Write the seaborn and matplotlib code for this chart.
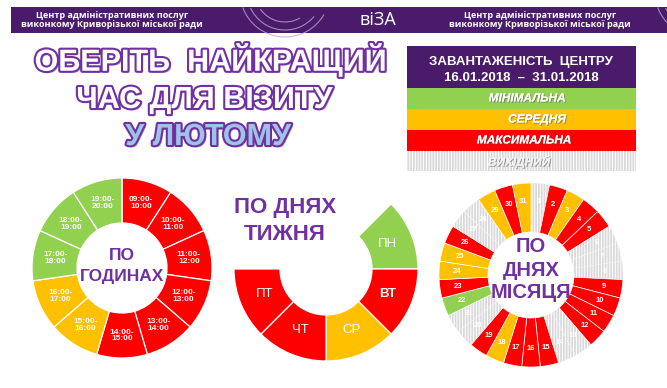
import numpy as np
import matplotlib
matplotlib.use('Agg')
import matplotlib.pyplot as plt
import matplotlib.patheffects as pe
from matplotlib.patches import Rectangle, Arc
import seaborn as sns

sns.set_theme(style='white')
plt.rcParams['font.family'] = ['Liberation Sans', 'DejaVu Sans']
plt.rcParams['hatch.linewidth'] = 0.7

# ---------------- data ----------------
load_colors = {'min': '#92d050', 'mid': '#ffc000', 'max': '#ff0000', 'off': '#d9d9d9'}
legend_names = ['МІНІМАЛЬНА', 'СЕРЕДНЯ', 'МАКСИМАЛЬНА', 'ВИХІДНИЙ']
legend_keys = ['min', 'mid', 'max', 'off']

hour_labels = ['09:00-\n10:00', '10:00-\n11:00', '11:00-\n12:00', '12:00-\n13:00',
               '13:00-\n14:00', '14:00-\n15:00', '15:00-\n16:00', '16:00-\n17:00',
               '17:00-\n18:00', '18:00-\n19:00', '19:00-\n20:00']
hour_load = ['max', 'max', 'max', 'max', 'max', 'max', 'mid', 'mid', 'min', 'min', 'min']
hour_share = [1, 1, 1, 1, 1, 1, 1, 1, 1, 1, 1]

week_labels = ['ПН', 'ВТ', 'СР', 'ЧТ', 'ПТ']
week_load = ['min', 'max', 'mid', 'max', 'max']
week_share = [1, 1, 1, 1, 1]
week_blank = 3

day_labels = ['1', '2', '3', '4', '5', '6', '7', '8', '9', '10', '11', '12', '13', '14', '15',
              '16', '17', '18', '19', '20', '21', '22', '23', '24', '25', '26', '27', '28',
              '29', '30', '31']
day_load = ['off', 'max', 'mid', 'max', 'max', 'off', 'off', 'off', 'max', 'max', 'max', 'max',
            'off', 'off', 'max', 'max', 'max', 'mid', 'max', 'off', 'off', 'min', 'max', 'mid',
            'mid', 'max', 'off', 'off', 'mid', 'max', 'mid']
day_share = [1] * 31

# ---------------- figure ----------------
W, H = 667, 388
fig = plt.figure(figsize=(W / 100, H / 100), dpi=100)
fig.patch.set_facecolor('white')
ax = fig.add_axes([0, 0, 1, 1])


def Y(y):
    return H - y


PURPLE = '#4a1a6b'
TXT = '#7030a0'
HATCH = '||||||'

# header band
ax.add_patch(Rectangle((11, Y(33)), W - 11, 26, facecolor=PURPLE, edgecolor='none', zorder=1))
for cx in (112, 540):
    ax.text(cx, Y(15), 'Центр адміністративних послуг', color='white', fontsize=6.5,
            fontweight='bold', family=['Open Sans', 'DejaVu Sans'], ha='center', va='center', zorder=3)
    ax.text(cx, Y(24.5), 'виконкому Криворізької міської ради', color='white', fontsize=6.5,
            fontweight='bold', family=['Open Sans', 'DejaVu Sans'], ha='center', va='center', zorder=3)
ax.text(378, Y(20), 'віЗА', color='white', fontsize=13, family=['Open Sans', 'DejaVu Sans'],
        ha='center', va='center', zorder=3)
for x0 in (285, 700):
    for rr, a1, a2 in ((45, 200, 330), (38, 205, 320), (30, 215, 300)):
        ax.add_patch(Arc((x0, Y(-8)), 2 * rr, 2 * rr, theta1=a1, theta2=a2,
                         color='#b9a6d3', lw=0.8, alpha=0.8, zorder=2))

# title
title_fx = [pe.withSimplePatchShadow(offset=(1.5, -1.5), shadow_rgbFace='#8c7aa8', alpha=0.6),
            pe.Stroke(linewidth=3.0, foreground=TXT), pe.Normal()]
ax.text(210, Y(60), 'ОБЕРІТЬ  НАЙКРАЩИЙ', fontsize=22, fontweight='bold', color='white',
        ha='center', va='center', path_effects=title_fx, zorder=4)
ax.text(204, Y(100), 'ЧАС ДЛЯ ВІЗИТУ', fontsize=22, fontweight='bold', color='white',
        ha='center', va='center', path_effects=title_fx, zorder=4)
ax.text(208, Y(137), 'У ЛЮТОМУ', fontsize=22, fontweight='bold', color='#9dc3e6',
        ha='center', va='center', path_effects=title_fx, zorder=4)

# legend box
LX0, LX1 = 407, 636
ax.add_patch(Rectangle((LX0, Y(88)), LX1 - LX0, 42, facecolor=PURPLE, edgecolor='none', zorder=1))
ax.text(521, Y(62), 'ЗАВАНТАЖЕНІСТЬ  ЦЕНТРУ', color='white', fontsize=9.5, fontweight='bold',
        ha='center', va='center', zorder=3)
ax.text(521, Y(78), '16.01.2018  –  31.01.2018', color='white', fontsize=9.5, fontweight='bold',
        ha='center', va='center', zorder=3)
rows = [(88, 109), (109, 130), (130, 151), (151, 171)]
label_x = [527, 537, 524, 519]
shadow_fx = [pe.withSimplePatchShadow(offset=(0.8, -0.8), shadow_rgbFace='#555555', alpha=0.5),
             pe.Normal()]
for (ya, yb), key, name, lx in zip(rows, legend_keys, legend_names, label_x):
    r = Rectangle((LX0, Y(yb)), LX1 - LX0, yb - ya, facecolor=load_colors[key],
                  edgecolor='white' if key == 'off' else 'none', lw=0,
                  hatch=HATCH if key == 'off' else None, zorder=1)
    ax.add_patch(r)
    ax.text(lx, Y((ya + yb) / 2), name, color='#f2f2f2' if key == 'off' else 'white',
            fontsize=8.5, fontweight='bold', style='italic', ha='center', va='center',
            path_effects=shadow_fx, zorder=3)


def ring(values, keys, cx, cy, R, r, start, blank=None, lw=0.9):
    vals = list(values) + ([blank] if blank else [])
    cols = [load_colors[k] for k in keys] + (['none'] if blank else [])
    wedges, _ = ax.pie(vals, colors=cols, startangle=start, counterclock=False, radius=R,
                       center=(cx, Y(cy)), frame=True,
                       wedgeprops=dict(width=R - r, edgecolor='white', linewidth=lw))
    if blank:
        wedges[-1].set_edgecolor('none')
        wedges = wedges[:-1]
    for w, k in zip(wedges, keys):
        if k == 'off':
            w.set_hatch(HATCH)
            w.set_linewidth(0.2)
    return wedges


def place(wedges, labels, frac, **kw):
    for w, lab in zip(wedges, labels):
        th = np.deg2rad((w.theta1 + w.theta2) / 2)
        rr = w.r * frac
        ax.text(w.center[0] + rr * np.cos(th), w.center[1] + rr * np.sin(th), lab,
                ha='center', va='center', zorder=5, **kw)


# hours ring
hw = ring(hour_share, hour_load, 122, 268, 90, 45, 90)
place(hw, hour_labels, 0.75, color='white', fontsize=6, fontweight='bold', linespacing=1.0)
ax.text(122, Y(255), 'ПО', color=TXT, fontsize=12.5, fontweight='bold', ha='center', va='center')
ax.text(122, Y(276), 'ГОДИНАХ', color=TXT, fontsize=12.5, fontweight='bold', ha='center', va='center')

# weekday ring
ww = ring(week_share, week_load, 326, 269, 92, 46, 45, blank=week_blank)
for w, lab in zip(ww, week_labels):
    th = np.deg2rad((w.theta1 + w.theta2) / 2)
    rr = w.r * 0.72
    ax.text(w.center[0] + rr * np.cos(th), w.center[1] + rr * np.sin(th), lab,
            ha='center', va='center', zorder=5, color='white', fontsize=9.5,
            fontweight='bold' if lab == 'ВТ' else 'normal')
ax.text(285, Y(208), 'ПО ДНЯХ', color=TXT, fontsize=16, fontweight='bold', ha='center', va='center')
ax.text(285, Y(235), 'ТИЖНЯ', color=TXT, fontsize=16, fontweight='bold', ha='center', va='center')

# month ring
dw = ring(day_share, day_load, 531, 275, 92, 43, 90, lw=0.5)
place(dw, day_labels, 0.8, color='white', fontsize=5.5, fontweight='bold')
ax.text(531, Y(247), 'ПО', color=TXT, fontsize=14.5, fontweight='bold', ha='center', va='center')
ax.text(531, Y(270), 'ДНЯХ', color=TXT, fontsize=14.5, fontweight='bold', ha='center', va='center')
ax.text(531, Y(293), 'МІСЯЦЯ', color=TXT, fontsize=14.5, fontweight='bold', ha='center', va='center')

ax.set_xlim(0, W)
ax.set_ylim(0, H)
ax.set_aspect('auto')
ax.set_axis_off()
fig.savefig('out.png', dpi=100, facecolor='white')
